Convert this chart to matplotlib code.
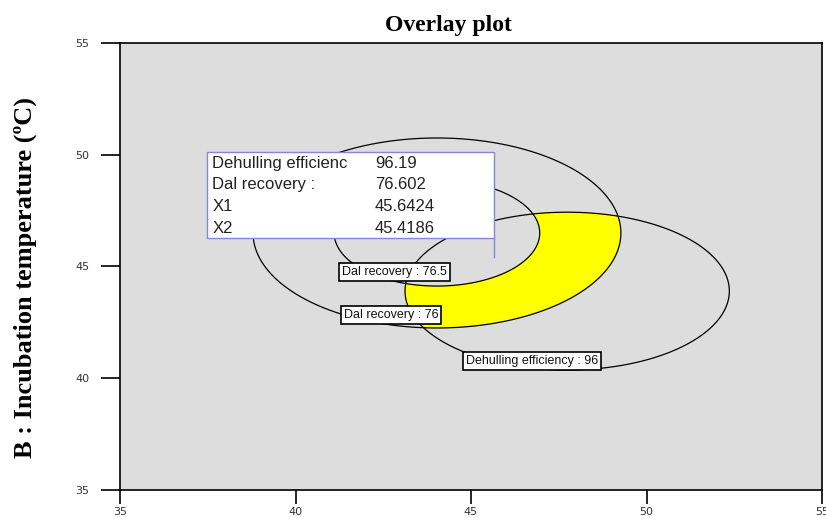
import numpy as np
import matplotlib.pyplot as plt
from matplotlib.patches import Rectangle

# -- fitted quadratic responses: optimum, centre (A, B) and curvature per factor
dal_max = 76.727
dal_center = [44.03, 46.50]
dal_curv = [0.02648, 0.04025]
dal_levels = [76.0, 76.5]

deh_max = 96.312
deh_center = [47.74, 43.90]
deh_curv = [0.01462, 0.02504]
deh_levels = [96.0]

# -- flagged point and its readout
flag_x1 = 45.6424
flag_x2 = 45.4186
flag_names = ["Dehulling efficienc", "Dal recovery :", "X1", "X2"]
flag_vals = ["96.19", "76.602", "45.6424", "45.4186"]

x_ticks = [35, 40, 45, 50, 55]
y_ticks = [35, 40, 45, 50, 55]


def response(top, cen, curv, a, b):
    return top - curv[0] * (a - cen[0]) ** 2 - curv[1] * (b - cen[1]) ** 2


if __name__ == "__main__":

    # -- evaluate both models on a grid
    a = np.linspace(35, 55, 700)
    b = np.linspace(35, 55, 700)
    A, B = np.meshgrid(a, b)
    dal = response(dal_max, dal_center, dal_curv, A, B)
    deh = response(deh_max, deh_center, deh_curv, A, B)

    # -- feasible window: dehulling >= 96 and dal recovery within its band
    feas = np.minimum(np.minimum(deh - deh_levels[0], dal - dal_levels[0]),
                      dal_levels[1] - dal)

    fig = plt.figure(figsize=(8.26, 5.17), dpi=100)
    ax = fig.add_axes([120 / 826., 1 - 490 / 517., 702 / 826., 447 / 517.])
    ax.set_facecolor("#dddddd")

    ax.contourf(A, B, feas, levels=[0, 10], colors=["#ffff00"])
    ax.contour(A, B, dal, levels=dal_levels, colors="black", linewidths=0.9)
    ax.contour(A, B, deh, levels=deh_levels, colors="black", linewidths=0.9)

    # -- contour labels
    lab = dict(fontsize=9, family="Liberation Sans", ha="center", va="center",
               color="#111111",
               bbox=dict(boxstyle="square,pad=0.25", fc="white", ec="black", lw=1.2))
    ax.text(42.83, 44.75, "Dal recovery : {0:g}".format(dal_levels[1]), **lab)
    ax.text(42.72, 42.83, "Dal recovery : {0:g}".format(dal_levels[0]), **lab)
    ax.text(46.74, 40.77, "Dehulling efficiency : {0:g}".format(deh_levels[0]), **lab)

    # -- flag box hanging off the flagged point
    fcol = "#8585dd"
    bx0 = flag_x1 - 8.16
    by0 = flag_x2 + 0.85
    ax.add_patch(Rectangle((bx0, by0), flag_x1 - bx0, 3.85, fc="white",
                           ec=fcol, lw=1.0, zorder=5))
    ax.plot([flag_x1, flag_x1], [flag_x2, by0], color=fcol, lw=1.0, zorder=5)
    for ii, (nm, vl) in enumerate(zip(flag_names, flag_vals)):
        yy = by0 + 3.85 - 0.5 - 0.97 * ii
        ax.text(bx0 + 0.15, yy, nm, fontsize=12, family="Liberation Sans",
                color="#222222", va="center", zorder=6)
        ax.text(bx0 + 4.78, yy, vl, fontsize=12, family="Liberation Sans",
                color="#222222", va="center", zorder=6)

    # -- axes styling
    ax.set_xlim(35, 55)
    ax.set_ylim(35, 55)
    ax.set_xticks(x_ticks)
    ax.set_yticks(y_ticks)
    for sp in ax.spines.values():
        sp.set_linewidth(1.2)
    ax.tick_params(axis="y", direction="out", length=14, width=1.2, pad=8,
                   labelsize=8, labelcolor="#333333")
    ax.tick_params(axis="x", direction="out", length=10, width=1.2, pad=2,
                   labelsize=8, labelcolor="#333333")
    ax.set_ylabel("B : Incubation temperature (ºC)", family="Liberation Serif",
                  fontweight="bold", fontsize=19)
    ax.yaxis.set_label_coords(-0.118, 0.475)

    fig.text(448 / 826., 1 - 26 / 517., "Overlay plot", family="Liberation Serif",
             fontweight="bold", fontsize=17, ha="center", va="center")

    fig.savefig("out.png", dpi=100)
